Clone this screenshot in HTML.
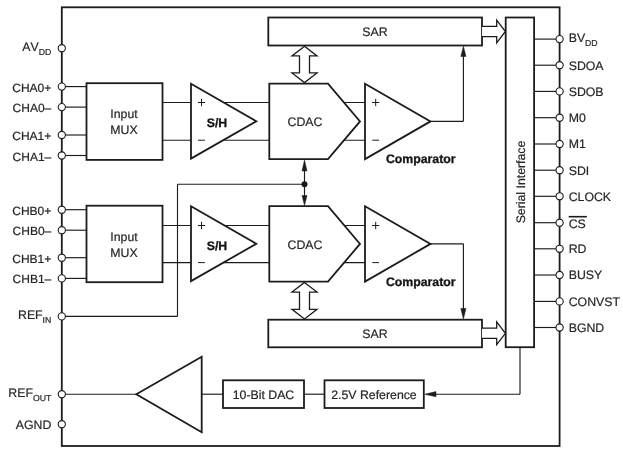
<!DOCTYPE html>
<html><head><meta charset="utf-8"><title>Block Diagram</title>
<style>
html,body{margin:0;padding:0;background:#fff;}
body{width:623px;height:455px;overflow:hidden;}
svg{display:block;}
text{font-family:"Liberation Sans",sans-serif;fill:#262626;font-kerning:none;stroke:#262626;stroke-width:0.2px;}
svg{will-change:transform;transform:translateZ(0);}
text{-webkit-font-smoothing:antialiased;text-rendering:geometricPrecision;}
</style></head><body>
<svg width="623" height="455" viewBox="0 0 623 455">
<rect x="0" y="0" width="623" height="455" fill="#ffffff"/>
<rect x="61.8" y="7.3" width="497.8" height="438.7" fill="#fff" stroke="#1c1c1c" stroke-width="1.8"/>
<line x1="61.8" y1="86.6" x2="86.5" y2="86.6" stroke="#1c1c1c" stroke-width="1.15"/>
<line x1="61.8" y1="107.1" x2="86.5" y2="107.1" stroke="#1c1c1c" stroke-width="1.15"/>
<line x1="61.8" y1="135" x2="86.5" y2="135" stroke="#1c1c1c" stroke-width="1.15"/>
<line x1="61.8" y1="155.5" x2="86.5" y2="155.5" stroke="#1c1c1c" stroke-width="1.15"/>
<line x1="61.8" y1="209.7" x2="86.5" y2="209.7" stroke="#1c1c1c" stroke-width="1.15"/>
<line x1="61.8" y1="230.2" x2="86.5" y2="230.2" stroke="#1c1c1c" stroke-width="1.15"/>
<line x1="61.8" y1="257.7" x2="86.5" y2="257.7" stroke="#1c1c1c" stroke-width="1.15"/>
<line x1="61.8" y1="278.4" x2="86.5" y2="278.4" stroke="#1c1c1c" stroke-width="1.15"/>
<rect x="86.5" y="83.2" width="76.0" height="76.7" fill="#fff" stroke="#1c1c1c" stroke-width="1.8"/>
<rect x="86.5" y="205.7" width="76.0" height="76.5" fill="#fff" stroke="#1c1c1c" stroke-width="1.8"/>
<line x1="162.5" y1="102.5" x2="269.3" y2="102.5" stroke="#1c1c1c" stroke-width="1.15"/>
<line x1="162.5" y1="140.2" x2="269.3" y2="140.2" stroke="#1c1c1c" stroke-width="1.15"/>
<line x1="330" y1="102.5" x2="365" y2="102.5" stroke="#1c1c1c" stroke-width="1.15"/>
<line x1="330" y1="140.2" x2="365" y2="140.2" stroke="#1c1c1c" stroke-width="1.15"/>
<line x1="162.5" y1="225.5" x2="269.3" y2="225.5" stroke="#1c1c1c" stroke-width="1.15"/>
<line x1="162.5" y1="262.6" x2="269.3" y2="262.6" stroke="#1c1c1c" stroke-width="1.15"/>
<line x1="330" y1="225.5" x2="365" y2="225.5" stroke="#1c1c1c" stroke-width="1.15"/>
<line x1="330" y1="262.6" x2="365" y2="262.6" stroke="#1c1c1c" stroke-width="1.15"/>
<line x1="61.8" y1="316.4" x2="177.5" y2="316.4" stroke="#1c1c1c" stroke-width="1.15"/>
<line x1="177.5" y1="316.4" x2="177.5" y2="184.2" stroke="#1c1c1c" stroke-width="1.15"/>
<line x1="177.5" y1="184.2" x2="304.5" y2="184.2" stroke="#1c1c1c" stroke-width="1.15"/>
<polygon points="191.0,83.7 256.3,121.3 191.0,158.6" fill="#fff" stroke="#1c1c1c" stroke-width="1.8" stroke-linejoin="miter"/>
<polygon points="269.3,83.7 328,83.7 360,121.4 328,159.1 269.3,159.1" fill="#fff" stroke="#1c1c1c" stroke-width="1.8" stroke-linejoin="miter"/>
<polygon points="365,83.7 430.5,121.4 365,159.1" fill="#fff" stroke="#1c1c1c" stroke-width="1.8" stroke-linejoin="miter"/>
<text x="217" y="127.3" text-anchor="middle" font-size="12.3" font-weight="bold" style="fill:#141414;stroke:#141414;stroke-width:0.3px" >S/H</text>
<text x="305" y="126" text-anchor="middle" font-size="12.3" >CDAC</text>
<text x="385.9" y="163.2" text-anchor="start" font-size="12.3" font-weight="bold" style="fill:#141414;stroke:#141414;stroke-width:0.3px" >Comparator</text>
<line x1="197.9" y1="102.5" x2="205.1" y2="102.5" stroke="#1c1c1c" stroke-width="1.0"/>
<line x1="201.5" y1="98.8" x2="201.5" y2="106.2" stroke="#1c1c1c" stroke-width="1.0"/>
<line x1="198.1" y1="140.2" x2="204.9" y2="140.2" stroke="#1c1c1c" stroke-width="1.0"/>
<line x1="372.09999999999997" y1="102.5" x2="379.3" y2="102.5" stroke="#1c1c1c" stroke-width="1.0"/>
<line x1="375.7" y1="98.8" x2="375.7" y2="106.2" stroke="#1c1c1c" stroke-width="1.0"/>
<line x1="372.3" y1="140.2" x2="379.09999999999997" y2="140.2" stroke="#1c1c1c" stroke-width="1.0"/>
<polygon points="191.0,206.2 256.3,243.8 191.0,281.1" fill="#fff" stroke="#1c1c1c" stroke-width="1.8" stroke-linejoin="miter"/>
<polygon points="269.3,206.2 328,206.2 360,243.9 328,281.6 269.3,281.6" fill="#fff" stroke="#1c1c1c" stroke-width="1.8" stroke-linejoin="miter"/>
<polygon points="365,206.2 430.5,243.9 365,281.6" fill="#fff" stroke="#1c1c1c" stroke-width="1.8" stroke-linejoin="miter"/>
<text x="217" y="249.8" text-anchor="middle" font-size="12.3" font-weight="bold" style="fill:#141414;stroke:#141414;stroke-width:0.3px" >S/H</text>
<text x="305" y="248.5" text-anchor="middle" font-size="12.3" >CDAC</text>
<text x="385.9" y="285.7" text-anchor="start" font-size="12.3" font-weight="bold" style="fill:#141414;stroke:#141414;stroke-width:0.3px" >Comparator</text>
<line x1="197.9" y1="225.5" x2="205.1" y2="225.5" stroke="#1c1c1c" stroke-width="1.0"/>
<line x1="201.5" y1="221.8" x2="201.5" y2="229.2" stroke="#1c1c1c" stroke-width="1.0"/>
<line x1="198.1" y1="262.6" x2="204.9" y2="262.6" stroke="#1c1c1c" stroke-width="1.0"/>
<line x1="372.09999999999997" y1="225.5" x2="379.3" y2="225.5" stroke="#1c1c1c" stroke-width="1.0"/>
<line x1="375.7" y1="221.8" x2="375.7" y2="229.2" stroke="#1c1c1c" stroke-width="1.0"/>
<line x1="372.3" y1="262.6" x2="379.09999999999997" y2="262.6" stroke="#1c1c1c" stroke-width="1.0"/>
<rect x="268.3" y="17.5" width="213.7" height="28.0" fill="#fff" stroke="#1c1c1c" stroke-width="1.8"/>
<rect x="268.3" y="319.7" width="213.7" height="27.600000000000023" fill="#fff" stroke="#1c1c1c" stroke-width="1.8"/>
<text x="375" y="36" text-anchor="middle" font-size="12.3" >SAR</text>
<text x="375" y="337.7" text-anchor="middle" font-size="12.3" >SAR</text>
<polygon points="304.5,46.2 317.0,55.900000000000006 309.5,55.900000000000006 309.5,72.89999999999999 317.0,72.89999999999999 304.5,82.6 292.0,72.89999999999999 299.5,72.89999999999999 299.5,55.900000000000006 292.0,55.900000000000006" fill="#fff" stroke="#1c1c1c" stroke-width="1.3" stroke-linejoin="miter"/>
<polygon points="304.5,282.4 317.0,292.09999999999997 309.5,292.09999999999997 309.5,309.3 317.0,309.3 304.5,319 292.0,309.3 299.5,309.3 299.5,292.09999999999997 292.0,292.09999999999997" fill="#fff" stroke="#1c1c1c" stroke-width="1.3" stroke-linejoin="miter"/>
<line x1="304.5" y1="165" x2="304.5" y2="200" stroke="#1c1c1c" stroke-width="1.15"/>
<circle cx="304.5" cy="184.2" r="3.0" fill="#1c1c1c"/>
<polygon points="304.5,160 307,171 302,171" fill="#1c1c1c" stroke="#1c1c1c" stroke-width="0.5" stroke-linejoin="miter"/>
<polygon points="304.5,205.6 307,195.5 302,195.5" fill="#1c1c1c" stroke="#1c1c1c" stroke-width="0.5" stroke-linejoin="miter"/>
<line x1="430.5" y1="121.3" x2="463.4" y2="121.3" stroke="#1c1c1c" stroke-width="1.15"/>
<line x1="463.4" y1="121.3" x2="463.4" y2="54" stroke="#1c1c1c" stroke-width="1.15"/>
<polygon points="463.4,46.2 466,56.5 460.8,56.5" fill="#1c1c1c" stroke="#1c1c1c" stroke-width="0.5" stroke-linejoin="miter"/>
<line x1="430.5" y1="243.8" x2="463.4" y2="243.8" stroke="#1c1c1c" stroke-width="1.15"/>
<line x1="463.4" y1="243.8" x2="463.4" y2="310" stroke="#1c1c1c" stroke-width="1.15"/>
<polygon points="463.4,319 466,308.5 460.8,308.5" fill="#1c1c1c" stroke="#1c1c1c" stroke-width="0.5" stroke-linejoin="miter"/>
<rect x="505.7" y="17.5" width="28.400000000000034" height="329.7" fill="#fff" stroke="#1c1c1c" stroke-width="1.8"/>
<text transform="translate(524.5,182) rotate(-90)" text-anchor="middle" font-size="12.3">Serial Interface</text>
<polyline points="482,26.4 496.7,26.4 496.7,20.1 505.4,31.5 496.7,42.9 496.7,36.6 482,36.6" fill="#fff" stroke="#1c1c1c" stroke-width="1.3" stroke-linejoin="miter"/>
<polyline points="482,328.2 496.7,328.2 496.7,321.90000000000003 505.4,333.3 496.7,344.7 496.7,338.40000000000003 482,338.40000000000003" fill="#fff" stroke="#1c1c1c" stroke-width="1.3" stroke-linejoin="miter"/>
<line x1="534.1" y1="39.1" x2="559.6" y2="39.1" stroke="#1c1c1c" stroke-width="1.15"/>
<circle cx="559.6" cy="39.1" r="3.6" fill="#fff" stroke="#1c1c1c" stroke-width="1.1"/>
<text x="568.7" y="42.300000000000004" text-anchor="start" font-size="12.3" >BV<tspan font-size="8.7" dy="3.8">DD</tspan></text>
<line x1="534.1" y1="65.2" x2="559.6" y2="65.2" stroke="#1c1c1c" stroke-width="1.15"/>
<circle cx="559.6" cy="65.2" r="3.6" fill="#fff" stroke="#1c1c1c" stroke-width="1.1"/>
<text x="568.7" y="69.60000000000001" text-anchor="start" font-size="12.3" >SDOA</text>
<line x1="534.1" y1="91.4" x2="559.6" y2="91.4" stroke="#1c1c1c" stroke-width="1.15"/>
<circle cx="559.6" cy="91.4" r="3.6" fill="#fff" stroke="#1c1c1c" stroke-width="1.1"/>
<text x="568.7" y="95.80000000000001" text-anchor="start" font-size="12.3" >SDOB</text>
<line x1="534.1" y1="117.7" x2="559.6" y2="117.7" stroke="#1c1c1c" stroke-width="1.15"/>
<circle cx="559.6" cy="117.7" r="3.6" fill="#fff" stroke="#1c1c1c" stroke-width="1.1"/>
<text x="568.7" y="122.10000000000001" text-anchor="start" font-size="12.3" >M0</text>
<line x1="534.1" y1="144" x2="559.6" y2="144" stroke="#1c1c1c" stroke-width="1.15"/>
<circle cx="559.6" cy="144" r="3.6" fill="#fff" stroke="#1c1c1c" stroke-width="1.1"/>
<text x="568.7" y="148.4" text-anchor="start" font-size="12.3" >M1</text>
<line x1="534.1" y1="170.2" x2="559.6" y2="170.2" stroke="#1c1c1c" stroke-width="1.15"/>
<circle cx="559.6" cy="170.2" r="3.6" fill="#fff" stroke="#1c1c1c" stroke-width="1.1"/>
<text x="568.7" y="174.6" text-anchor="start" font-size="12.3" >SDI</text>
<line x1="534.1" y1="196.3" x2="559.6" y2="196.3" stroke="#1c1c1c" stroke-width="1.15"/>
<circle cx="559.6" cy="196.3" r="3.6" fill="#fff" stroke="#1c1c1c" stroke-width="1.1"/>
<text x="568.7" y="200.70000000000002" text-anchor="start" font-size="12.3" >CLOCK</text>
<line x1="534.1" y1="222.7" x2="559.6" y2="222.7" stroke="#1c1c1c" stroke-width="1.15"/>
<circle cx="559.6" cy="222.7" r="3.6" fill="#fff" stroke="#1c1c1c" stroke-width="1.1"/>
<text x="568.7" y="228.29999999999998" text-anchor="start" font-size="12.3" >CS</text>
<line x1="534.1" y1="248.8" x2="559.6" y2="248.8" stroke="#1c1c1c" stroke-width="1.15"/>
<circle cx="559.6" cy="248.8" r="3.6" fill="#fff" stroke="#1c1c1c" stroke-width="1.1"/>
<text x="568.7" y="253.20000000000002" text-anchor="start" font-size="12.3" >RD</text>
<line x1="534.1" y1="275" x2="559.6" y2="275" stroke="#1c1c1c" stroke-width="1.15"/>
<circle cx="559.6" cy="275" r="3.6" fill="#fff" stroke="#1c1c1c" stroke-width="1.1"/>
<text x="568.7" y="279.4" text-anchor="start" font-size="12.3" >BUSY</text>
<line x1="534.1" y1="301.4" x2="559.6" y2="301.4" stroke="#1c1c1c" stroke-width="1.15"/>
<circle cx="559.6" cy="301.4" r="3.6" fill="#fff" stroke="#1c1c1c" stroke-width="1.1"/>
<text x="568.7" y="305.79999999999995" text-anchor="start" font-size="12.3" >CONVST</text>
<line x1="534.1" y1="327.5" x2="559.6" y2="327.5" stroke="#1c1c1c" stroke-width="1.15"/>
<circle cx="559.6" cy="327.5" r="3.6" fill="#fff" stroke="#1c1c1c" stroke-width="1.1"/>
<text x="568.7" y="331.9" text-anchor="start" font-size="12.3" >BGND</text>
<line x1="568.7" y1="216.7" x2="586.9" y2="216.7" stroke="#1c1c1c" stroke-width="1.6"/>
<line x1="61.8" y1="394.2" x2="136.3" y2="394.2" stroke="#1c1c1c" stroke-width="1.15"/>
<polygon points="136.3,394.2 201.7,356.8 201.7,432.2" fill="#fff" stroke="#1c1c1c" stroke-width="1.8" stroke-linejoin="miter"/>
<line x1="201.7" y1="394.2" x2="223" y2="394.2" stroke="#1c1c1c" stroke-width="1.15"/>
<rect x="223" y="380.3" width="81" height="27.69999999999999" fill="#fff" stroke="#1c1c1c" stroke-width="1.8"/>
<text x="263.5" y="398.5" text-anchor="middle" font-size="12.3" >10-Bit DAC</text>
<line x1="304" y1="394.2" x2="324.5" y2="394.2" stroke="#1c1c1c" stroke-width="1.15"/>
<rect x="324.5" y="380.3" width="99.30000000000001" height="27.69999999999999" fill="#fff" stroke="#1c1c1c" stroke-width="1.8"/>
<text x="374" y="398.5" text-anchor="middle" font-size="12.3" >2.5V Reference</text>
<line x1="434" y1="394.2" x2="520" y2="394.2" stroke="#1c1c1c" stroke-width="1.15"/>
<line x1="520" y1="394.2" x2="520" y2="347.2" stroke="#1c1c1c" stroke-width="1.15"/>
<polygon points="424.6,394.2 436,391.6 436,396.8" fill="#1c1c1c" stroke="#1c1c1c" stroke-width="0.5" stroke-linejoin="miter"/>
<text x="124" y="118" text-anchor="middle" font-size="12.3" >Input</text>
<text x="124" y="134.3" text-anchor="middle" font-size="12.3" >MUX</text>
<text x="124" y="240.5" text-anchor="middle" font-size="12.3" >Input</text>
<text x="124" y="256.8" text-anchor="middle" font-size="12.3" >MUX</text>
<circle cx="61.8" cy="48.2" r="3.6" fill="#fff" stroke="#1c1c1c" stroke-width="1.1"/>
<text x="51.3" y="51.2" text-anchor="end" font-size="12.3" >AV<tspan font-size="8.7" dy="3.8">DD</tspan></text>
<circle cx="61.8" cy="86.6" r="3.6" fill="#fff" stroke="#1c1c1c" stroke-width="1.1"/>
<text x="51.3" y="91.6" text-anchor="end" font-size="12.0" >CHA0+</text>
<circle cx="61.8" cy="107.1" r="3.6" fill="#fff" stroke="#1c1c1c" stroke-width="1.1"/>
<text x="51.3" y="112.1" text-anchor="end" font-size="12.0" >CHA0–</text>
<circle cx="61.8" cy="135" r="3.6" fill="#fff" stroke="#1c1c1c" stroke-width="1.1"/>
<text x="51.3" y="140.0" text-anchor="end" font-size="12.0" >CHA1+</text>
<circle cx="61.8" cy="155.5" r="3.6" fill="#fff" stroke="#1c1c1c" stroke-width="1.1"/>
<text x="51.3" y="160.5" text-anchor="end" font-size="12.0" >CHA1–</text>
<circle cx="61.8" cy="209.7" r="3.6" fill="#fff" stroke="#1c1c1c" stroke-width="1.1"/>
<text x="51.3" y="214.7" text-anchor="end" font-size="12.0" >CHB0+</text>
<circle cx="61.8" cy="230.2" r="3.6" fill="#fff" stroke="#1c1c1c" stroke-width="1.1"/>
<text x="51.3" y="235.2" text-anchor="end" font-size="12.0" >CHB0–</text>
<circle cx="61.8" cy="257.7" r="3.6" fill="#fff" stroke="#1c1c1c" stroke-width="1.1"/>
<text x="51.3" y="262.7" text-anchor="end" font-size="12.0" >CHB1+</text>
<circle cx="61.8" cy="278.4" r="3.6" fill="#fff" stroke="#1c1c1c" stroke-width="1.1"/>
<text x="51.3" y="283.4" text-anchor="end" font-size="12.0" >CHB1–</text>
<circle cx="61.8" cy="316.4" r="3.6" fill="#fff" stroke="#1c1c1c" stroke-width="1.1"/>
<text x="51.3" y="319.4" text-anchor="end" font-size="12.3" >REF<tspan font-size="8.7" dy="3.8">IN</tspan></text>
<circle cx="61.8" cy="394.2" r="3.6" fill="#fff" stroke="#1c1c1c" stroke-width="1.1"/>
<text x="51.3" y="397.2" text-anchor="end" font-size="12.3" >REF<tspan font-size="8.7" dy="3.8">OUT</tspan></text>
<circle cx="61.8" cy="424.2" r="3.6" fill="#fff" stroke="#1c1c1c" stroke-width="1.1"/>
<text x="51.3" y="429.2" text-anchor="end" font-size="12.3" >AGND</text>
</svg>
</body></html>
